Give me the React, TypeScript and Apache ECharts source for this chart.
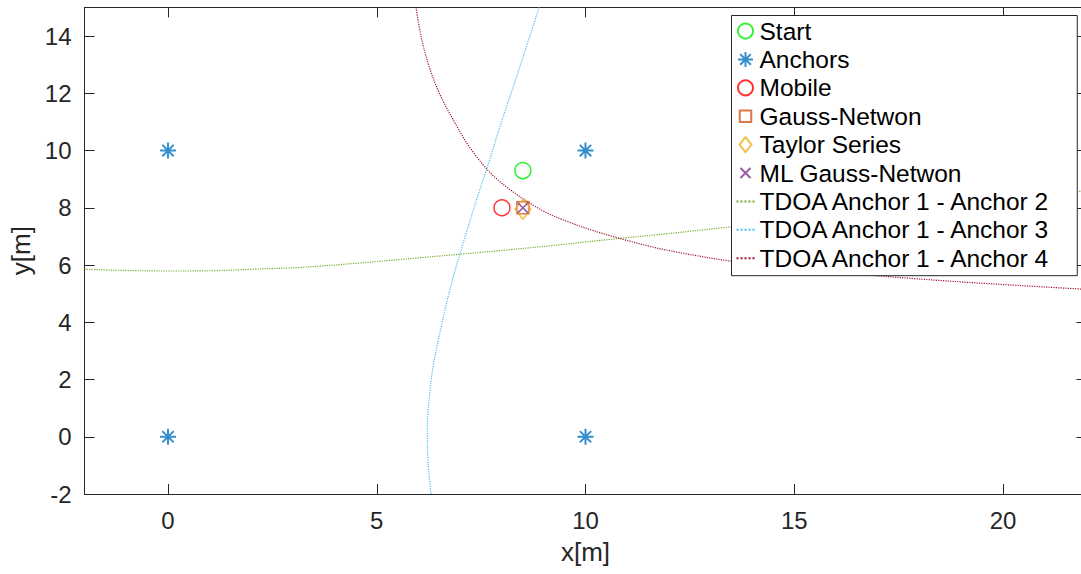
import React, { useEffect, useRef } from 'react';
import * as echarts from 'echarts';

const FONT = '"Liberation Sans", Arial, Helvetica, sans-serif';
const AX = '#262626';

const xTicks = [0, 5, 10, 15, 20];
const yTicks = [-2, 0, 2, 4, 6, 8, 10, 12, 14];

const legendNames = [
  'Start',
  'Anchors',
  'Mobile',
  'Gauss-Netwon',
  'Taylor Series',
  'ML Gauss-Netwon',
  'TDOA Anchor 1 - Anchor 2',
  'TDOA Anchor 1 - Anchor 3',
  'TDOA Anchor 1 - Anchor 4',
];

const anchorsX = [0, 0, 10, 10];
const anchorsY = [0, 10, 10, 0];
const startPos = [8.5, 9.3];
const mobilePos = [8, 8];
const gaussNewtonPos = [8.5, 8.0];
const taylorPos = [8.5, 7.95];
const mlGaussNewtonPos = [8.5, 8.0];

const tdoa12 = [
  [-2, 5.85], [-1, 5.81], [0, 5.79], [1, 5.8], [2, 5.85], [3.2, 5.92], [4.5, 6.06], [6.0, 6.25],
  [8.0, 6.51], [9.4, 6.71], [10.75, 6.92], [12.0, 7.1], [13.46, 7.33], [16, 7.7], [19, 8.15], [22, 8.6],
];
const tdoa13 = [
  [6.3, -2], [6.23, -0.92], [6.21, 0.24], [6.26, 1.4], [6.35, 2.45], [6.51, 3.61], [6.75, 5.13],
  [7.03, 6.58], [7.39, 8.27], [7.65, 9.43], [7.95, 10.83], [8.35, 12.58], [8.89, 15],
];
const tdoa14 = [
  [5.94, 15], [6.06, 14], [6.24, 13], [6.5, 12], [6.86, 11], [7.28, 10], [7.88, 9], [8.85, 8],
  [9.6, 7.5], [10.65, 7], [12.02, 6.5], [14.2, 6], [18.1, 5.5], [22, 5.15],
];

const ASTERISK = 'path://M8,0L8,16M0,8L16,8M2.34,2.34L13.66,13.66M2.34,13.66L13.66,2.34';
const CROSS = 'path://M-2.5,-2.5M0,0L10,10M0,10L10,0M12.5,12.5';
const SQUARE = 'path://M-1.5,-1.5M0,0L10,0L10,10L0,10ZM11.5,11.5';
const DIAMOND = 'path://M8,0L16,10L8,20L0,10Z';

function makeXAxis(pos: 'bottom' | 'top', labels: boolean) {
  return {
    type: 'value',
    min: -2,
    max: 22,
    position: pos,
    axisLine: { show: true, onZero: false, lineStyle: { color: AX, width: 1 } },
    axisTick: { show: true, inside: true, length: 10, customValues: xTicks, lineStyle: { color: AX, width: 1 } },
    axisLabel: labels
      ? { show: true, customValues: xTicks, fontSize: 24, color: AX, margin: 14, fontFamily: FONT }
      : { show: false },
    splitLine: { show: false },
    ...(labels
      ? { name: 'x[m]', nameLocation: 'middle', nameGap: 45, nameTextStyle: { fontSize: 26, color: AX, fontFamily: FONT } }
      : {}),
  };
}

function makeYAxis(pos: 'left' | 'right', labels: boolean) {
  return {
    type: 'value',
    min: -2,
    max: 15,
    position: pos,
    axisLine: { show: true, onZero: false, lineStyle: { color: AX, width: 1 } },
    axisTick: { show: true, inside: true, length: 10, customValues: yTicks, lineStyle: { color: AX, width: 1 } },
    axisLabel: labels
      ? { show: true, customValues: yTicks, fontSize: 24, color: AX, margin: 13, fontFamily: FONT }
      : { show: false },
    splitLine: { show: false },
    ...(labels
      ? { name: 'y[m]', nameLocation: 'middle', nameGap: 35, nameTextStyle: { fontSize: 26, color: AX, fontFamily: FONT } }
      : {}),
  };
}

function lineSeries(name: string, data: number[][], color: string) {
  return {
    name,
    type: 'line',
    data,
    showSymbol: false,
    symbol: 'none',
    smooth: 0.35,
    lineStyle: { color, width: 1.2, type: 'dotted' },
    itemStyle: { color: 'rgba(0,0,0,0)', borderWidth: 0 },
    z: 2,
  };
}

function markerSeries(name: string, data: number[][], symbol: string, size: number | number[], color: string, bw = 1.5) {
  return {
    name,
    type: 'scatter',
    data,
    symbol,
    symbolSize: size,
    itemStyle: { color: 'none', borderColor: color, borderWidth: bw },
    z: 3,
  };
}

export default function App() {
  const ref = useRef<HTMLDivElement>(null);
  useEffect(() => {
    const chart = echarts.init(ref.current!, null, { renderer: 'svg' });
    const anchors = anchorsX.map((x, i) => [x, anchorsY[i]]);
    chart.setOption({
      animation: false,
      backgroundColor: '#fff',
      grid: { left: 84.5, top: 7.4, width: 1002, height: 486.6, show: false, containLabel: false, outerBoundsMode: 'none' },
      xAxis: [makeXAxis('bottom', true), makeXAxis('top', false)],
      yAxis: [makeYAxis('left', true), makeYAxis('right', false)],
      legend: {
        orient: 'vertical',
        left: 731.5,
        top: 15.5,
        padding: [3, 25, 5, 4],
        itemWidth: 18,
        itemHeight: 15,
        itemGap: 3.4,
        backgroundColor: '#fff',
        borderColor: AX,
        borderWidth: 1,
        selectedMode: false,
        textStyle: { fontSize: 24.5, color: '#000', fontFamily: FONT, lineHeight: 24 },
        data: legendNames,
      },
      series: [
        lineSeries(legendNames[6], tdoa12, '#77AC30'),
        lineSeries(legendNames[7], tdoa13, '#4DBEEE'),
        lineSeries(legendNames[8], tdoa14, '#A2142F'),
        markerSeries(legendNames[0], [startPos], 'circle', 16, '#00EE00'),
        markerSeries(legendNames[1], anchors, ASTERISK, 16, '#0072BD', 2),
        markerSeries(legendNames[2], [mobilePos], 'circle', 16, '#FF0000'),
        markerSeries(legendNames[3], [gaussNewtonPos], SQUARE, 15.6, '#D95319'),
        markerSeries(legendNames[4], [taylorPos], DIAMOND, [16, 20], '#EDB120'),
        markerSeries(legendNames[5], [mlGaussNewtonPos], CROSS, 16, '#7E2F8E'),
      ],
    });
    return () => chart.dispose();
  }, []);
  return (
    <div
      ref={ref}
      style={{ position: 'absolute', left: 0, top: 0, width: 1081, height: 574, background: '#fff' }}
    />
  );
}
